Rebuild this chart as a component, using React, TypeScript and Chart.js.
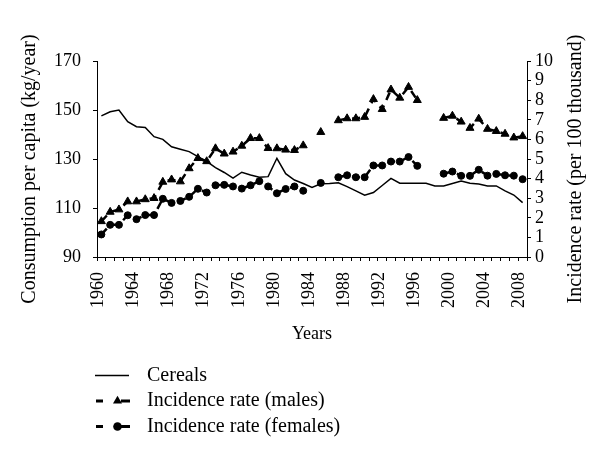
import React, { useEffect, useRef } from "react";
import { Chart, registerables } from "chart.js";

Chart.register(...registerables);

const years = [
  "1960", "1961", "1962", "1963", "1964", "1965", "1966", "1967", "1968", "1969",
  "1970", "1971", "1972", "1973", "1974", "1975", "1976", "1977", "1978", "1979",
  "1980", "1981", "1982", "1983", "1984", "1985", "1986", "1987", "1988", "1989",
  "1990", "1991", "1992", "1993", "1994", "1995", "1996", "1997", "1998", "1999",
  "2000", "2001", "2002", "2003", "2004", "2005", "2006", "2007", "2008",
];

const shownYears = [
  "1960", "1964", "1968", "1972", "1976", "1980", "1984",
  "1988", "1992", "1996", "2000", "2004", "2008",
];

// Cereals consumption per capita (kg/year), left axis
const cereals = [
  147.6, 149.3, 150, 145.2, 143.2, 142.9, 139.1, 138, 135, 134,
  133, 131, 129, 126.5, 124.5, 122.2, 124.6, 123.5, 122.6, 122.8,
  130.3, 124, 121.4, 120, 118.4, 119.9, 120, 120.3, 118.7, 117,
  115.2, 116.3, 119.2, 122.1, 120.1, 120.1, 120.1, 120.1, 119, 119,
  120, 121, 120.1, 119.8, 119, 119, 117, 115.3, 112.2,
];

// Incidence rate, males (per 100 thousand), right axis
const males = [
  1.82, 2.3, 2.42, 2.83, 2.83, 2.94, 3.0, 3.83, 3.95, 3.85,
  4.52, 5.04, 4.88, 5.54, 5.27, 5.37, 5.67, 6.06, 6.06, 5.55,
  5.54, 5.47, 5.45, 5.69, null, 6.37, null, 6.97, 7.07, 7.07,
  7.14, 8.05, 7.54, 8.54, 8.12, 8.67, 8.0, null, null, 7.09,
  7.2, 6.9, 6.58, 7.05, 6.53, 6.42, 6.28, 6.09, 6.16,
];

// Incidence rate, females (per 100 thousand), right axis
const females = [
  1.15, 1.64, 1.64, 2.13, 1.93, 2.14, 2.14, 2.97, 2.76, 2.86,
  3.07, 3.48, 3.29, 3.66, 3.68, 3.6, 3.49, 3.66, 3.87, 3.6,
  3.25, 3.47, 3.6, 3.38, null, 3.78, null, 4.07, 4.17, 4.07,
  4.07, 4.67, 4.67, 4.87, 4.87, 5.1, 4.65, null, null, 4.25,
  4.36, 4.14, 4.14, 4.45, 4.15, 4.24, 4.17, 4.15, 3.97,
];

const seriesLabels = ["Cereals", "Incidence rate (males)", "Incidence rate (females)"];
const leftRange = [90, 170];
const leftStep = 20;
const rightRange = [0, 10];
const rightStep = 1;
const xTitle = "Years";
const leftTitle = "Consumption per capita (kg/year)";
const rightTitle = "Incidence rate (per 100 thousand)";

const FONT = "'Liberation Serif', 'Times New Roman', serif";

const decorPlugin = {
  id: "decor",
  afterDraw(chart: any) {
    const ctx = chart.ctx as CanvasRenderingContext2D;
    const area = chart.chartArea;
    ctx.save();
    ctx.fillStyle = "#000";
    ctx.strokeStyle = "#000";
    ctx.font = `20px ${FONT}`;
    ctx.textAlign = "center";
    ctx.textBaseline = "middle";
    const cy = (area.top + area.bottom) / 2 + 10;
    ctx.save();
    ctx.translate(30, cy);
    ctx.rotate(-Math.PI / 2);
    ctx.fillText(leftTitle, 0, 0);
    ctx.restore();
    ctx.save();
    ctx.translate(576, cy);
    ctx.rotate(-Math.PI / 2);
    ctx.fillText(rightTitle, 0, 0);
    ctx.restore();

    // legend
    ctx.textAlign = "left";
    chart.data.datasets.forEach((ds: any, i: number) => {
      const y = 375.5 + i * 25.5;
      if (!ds.pointRadius) {
        ctx.setLineDash([]);
        ctx.lineWidth = 1.5;
        ctx.beginPath();
        ctx.moveTo(95, y);
        ctx.lineTo(129, y);
        ctx.stroke();
      } else {
        ctx.setLineDash([]);
        ctx.lineWidth = 3;
        ctx.beginPath();
        ctx.moveTo(96, y);
        ctx.lineTo(103, y);
        ctx.moveTo(121, y);
        ctx.lineTo(130, y);
        ctx.stroke();
        const mx = 117.5;
        ctx.beginPath();
        if (ds.pointStyle === "triangle") {
          const r = 5.2;
          ctx.moveTo(mx, y - r);
          ctx.lineTo(mx + r * 0.866, y + r * 0.5);
          ctx.lineTo(mx - r * 0.866, y + r * 0.5);
          ctx.closePath();
        } else {
          ctx.arc(mx, y, 4.3, 0, Math.PI * 2);
        }
        ctx.fill();
      }
      ctx.fillText(ds.label, 147, y);
    });
    ctx.restore();
  },
};

export default function App() {
  const ref = useRef<HTMLCanvasElement | null>(null);

  useEffect(() => {
    if (!ref.current) return;
    const tickFont = { family: FONT, size: 18 };
    const chart = new Chart(ref.current, {
      type: "line",
      data: {
        labels: years,
        datasets: [
          {
            label: seriesLabels[0],
            data: cereals,
            yAxisID: "y",
            borderColor: "#000",
            backgroundColor: "#000",
            borderWidth: 1.5,
            pointRadius: 0,
            tension: 0,
          },
          {
            label: seriesLabels[1],
            data: males,
            yAxisID: "y1",
            borderColor: "#000",
            backgroundColor: "#000",
            borderWidth: 2.5,
            borderDash: [8, 6],
            pointStyle: "triangle",
            pointRadius: 4.6,
            pointBackgroundColor: "#000",
            pointBorderColor: "#000",
            pointBorderWidth: 1,
            spanGaps: false,
          },
          {
            label: seriesLabels[2],
            data: females,
            yAxisID: "y1",
            borderColor: "#000",
            backgroundColor: "#000",
            borderWidth: 2.5,
            borderDash: [8, 6],
            pointStyle: "circle",
            pointRadius: 3.5,
            pointBackgroundColor: "#000",
            pointBorderColor: "#000",
            pointBorderWidth: 1,
            spanGaps: false,
          },
        ],
      },
      options: {
        animation: false,
        responsive: false,
        devicePixelRatio: 1,
        layout: { padding: { top: 61, bottom: 113, left: 0, right: 0 } },
        plugins: {
          legend: { display: false },
          tooltip: { enabled: false },
        },
        scales: {
          x: {
            type: "category",
            offset: true,
            grid: {
              display: true,
              offset: true,
              drawOnChartArea: false,
              drawTicks: true,
              tickLength: 4,
              color: "#000",
              lineWidth: 1,
            },
            border: { display: true, color: "#000", width: 1 },
            ticks: {
              autoSkip: false,
              maxRotation: 90,
              minRotation: 90,
              padding: 11,
              labelOffset: -3,
              color: "#000",
              font: tickFont,
              callback: (_v: any, i: number) => (shownYears.includes(years[i]) ? years[i] : ""),
            },
            title: {
              display: true,
              text: xTitle,
              color: "#000",
              font: { family: FONT, size: 18 },
              padding: 0,
            },
            afterFit: (s: any) => {
              s.height = 88;
            },
          },
          y: {
            position: "left",
            min: leftRange[0],
            max: leftRange[1],
            ticks: { stepSize: leftStep, autoSkip: false, padding: 12, color: "#000", font: tickFont },
            grid: { drawOnChartArea: false, tickLength: 4, color: "#000" },
            border: { display: true, color: "#000", width: 1 },
            afterFit: (s: any) => {
              s.width = 97;
            },
          },
          y1: {
            position: "right",
            min: rightRange[0],
            max: rightRange[1],
            ticks: { stepSize: rightStep, autoSkip: false, padding: 4, color: "#000", font: tickFont },
            grid: { drawOnChartArea: false, tickLength: 4, color: "#000" },
            border: { display: true, color: "#000", width: 1 },
            afterFit: (s: any) => {
              s.width = 73;
            },
          },
        },
      },
      plugins: [decorPlugin],
    } as any);
    return () => chart.destroy();
  }, []);

  return (
    <div style={{ position: "fixed", left: 0, top: 0, width: 600, height: 458, background: "#fff" }}>
      <canvas ref={ref} width={600} height={458} style={{ display: "block", width: 600, height: 458 }} />
    </div>
  );
}
